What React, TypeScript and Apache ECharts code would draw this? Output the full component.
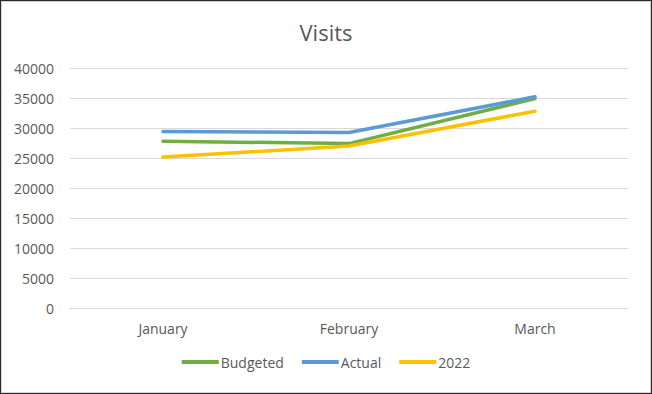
import React, { useEffect, useRef } from "react";
import * as echarts from "echarts";

const categories = ["January", "February", "March"];
const budgeted = [27800, 27400, 34900];
const actual = [29400, 29250, 35200];
const y2022 = [25150, 27000, 32800];
const seriesNames = ["Budgeted", "Actual", "2022"];

export default function App() {
  const ref = useRef<HTMLDivElement>(null);
  useEffect(() => {
    document.body.style.margin = "0";
    const chart = echarts.init(ref.current!, undefined, { renderer: "svg" });
    const font = "'Open Sans', 'Noto Sans', sans-serif";
    const mk = (name: string, data: number[], color: string) => ({
      name,
      type: "line",
      data,
      showSymbol: false,
      symbol: "none",
      lineStyle: { color, width: 3.5, cap: "round", join: "round" },
      itemStyle: { color },
    });
    chart.setOption({
      animation: false,
      backgroundColor: "#ffffff",
      title: {
        text: "Visits",
        left: "center",
        top: 14,
        textStyle: { fontFamily: font, fontSize: 22, fontWeight: "normal", color: "#595959" },
      },
      legend: {
        bottom: 18,
        left: "center",
        itemWidth: 37,
        itemHeight: 4,
        itemGap: 18,
        icon: "rect",
        textStyle: { fontFamily: font, fontSize: 14, color: "#595959", padding: [0, 0, 0, -3] },
        data: seriesNames,
      },
      grid: { left: 68, right: 22, top: 66, bottom: 84, containLabel: false },
      xAxis: {
        type: "category",
        data: categories,
        boundaryGap: true,
        axisLine: { show: true, lineStyle: { color: "#d9d9d9", width: 1 } },
        axisTick: { show: false },
        axisLabel: { fontFamily: font, fontSize: 14, color: "#595959", margin: 13 },
      },
      yAxis: {
        type: "value",
        min: 0,
        max: 40000,
        interval: 5000,
        axisLine: { show: false },
        axisTick: { show: false },
        splitLine: { lineStyle: { color: "#d9d9d9", width: 1 } },
        axisLabel: {
          fontFamily: font,
          fontSize: 14,
          color: "#595959",
          margin: 16,
          formatter: (v: number) => String(v),
        },
      },
      series: [
        mk(seriesNames[0], budgeted, "#70ad47"),
        mk(seriesNames[1], actual, "#5b9bd5"),
        mk(seriesNames[2], y2022, "#ffc000"),
      ],
    });
    return () => chart.dispose();
  }, []);
  return (
    <div
      style={{
        position: "fixed",
        left: 0,
        top: 0,
        width: 652,
        height: 394,
        boxSizing: "border-box",
        border: "1px solid #2b2b2b",
        boxShadow: "inset 0 0 0 1px #d4d4d4",
        padding: 1,
        background: "#fff",
      }}
    >
      <div ref={ref} style={{ width: 648, height: 390 }} />
    </div>
  );
}
